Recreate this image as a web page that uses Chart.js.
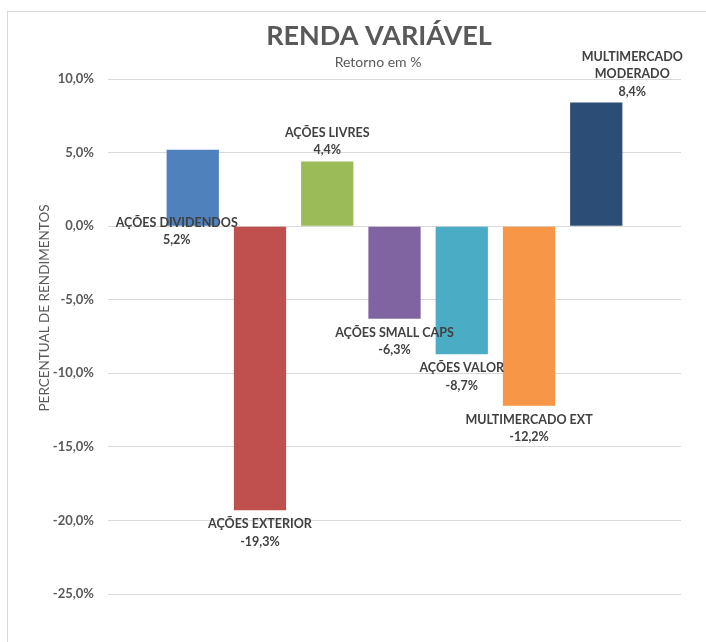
<!DOCTYPE html>
<html><head><meta charset="utf-8">
<script src="https://cdn.jsdelivr.net/npm/chart.js@4.4.0/dist/chart.umd.min.js"></script>
<style>
html,body{margin:0;padding:0;background:#fff;overflow:hidden}
#wrap{position:relative;width:706px;height:642px}
#frame{position:absolute;left:7px;top:11px;width:740px;height:680px;border:1px solid #d9d9d9;box-sizing:border-box;pointer-events:none}
canvas{position:absolute;left:0;top:0}
</style></head><body>
<div id="wrap"><canvas id="c" width="706" height="642"></canvas><div id="frame"></div></div>
<script>
// ---- data ----
const categories = ['AÇÕES DIVIDENDOS','AÇÕES EXTERIOR','AÇÕES LIVRES','AÇÕES SMALL CAPS','AÇÕES VALOR','MULTIMERCADO EXT','MULTIMERCADO MODERADO'];
const returnsPct = [5.2, -19.3, 4.4, -6.3, -8.7, -12.2, 8.4];
const yTicks = [10, 5, 0, -5, -10, -15, -20, -25];
const chartTitle = 'RENDA VARIÁVEL';
const chartSubtitle = 'Retorno em %';
const yAxisTitle = 'PERCENTUAL DE RENDIMENTOS';

// ---- styling ----
const barColors = ['#4F81BD','#C0504D','#9BBB59','#8064A2','#4BACC6','#F79646','#2C4D75'];
const labelNudges = [{atBase:true, dx:-16, dy:-3}, {}, {}, {}, {}, {}, {dx:36}];
const GRAY = '#595959', DARK = '#404040';
const fmt = v => v.toFixed(1).replace('.', ',') + '%';

function wrap(ctx, text, maxW){
  const words = text.split(' '); const lines = []; let cur = '';
  words.forEach(w => {
    const t = cur ? cur + ' ' + w : w;
    if (cur && ctx.measureText(t).width > maxW) { lines.push(cur); cur = w; } else cur = t;
  });
  if (cur) lines.push(cur);
  return lines;
}

const decorPlugin = {
  id: 'decor',
  afterDraw(chart){
    const ctx = chart.ctx; ctx.save();
    ctx.fillStyle = GRAY; ctx.textAlign = 'center'; ctx.textBaseline = 'alphabetic';
    ctx.font = 'bold 27px Lato'; ctx.fillText(chartTitle, 379, 45);
    ctx.font = '14px Lato'; ctx.fillText(chartSubtitle, 378, 67);
    ctx.textBaseline = 'middle';
    ctx.translate(45, 308); ctx.rotate(-Math.PI/2);
    ctx.font = '13.5px Lato'; ctx.fillText(yAxisTitle, 0, 0);
    ctx.restore();
  },
  afterDatasetsDraw(chart){
    const ctx = chart.ctx; const meta = chart.getDatasetMeta(0);
    ctx.save(); ctx.font = 'bold 12.5px Lato'; ctx.fillStyle = DARK;
    ctx.textAlign = 'center'; ctx.textBaseline = 'middle';
    const lh = 17.5;
    meta.data.forEach((bar, i) => {
      const v = returnsPct[i];
      const lines = wrap(ctx, categories[i], 140).concat([fmt(v)]);
      const n = lines.length; const nd = labelNudges[i] || {};
      const x = bar.x + (nd.dx || 0);
      let y0;
      if (nd.atBase) y0 = bar.base + (nd.dy || 0);
      else if (v >= 0) y0 = bar.y - 11 - (n - 1) * lh;
      else y0 = bar.y + 14;
      lines.forEach((t, k) => ctx.fillText(t, x, y0 + k * lh));
    });
    ctx.restore();
  }
};

new Chart(document.getElementById('c'), {
  type: 'bar',
  data: { labels: categories, datasets: [{ data: returnsPct, backgroundColor: barColors, borderWidth: 0, categoryPercentage: 1, barPercentage: 0.777 }] },
  options: {
    responsive: false, animation: false,
    layout: { padding: { top: 79, bottom: 48, right: 25, left: 0 } },
    plugins: { legend: { display: false }, title: { display: false }, tooltip: { enabled: false } },
    scales: {
      x: { display: false, afterBuildTicks: s => { s._startValue = -1.26; s._valueRange = 8.52; } },
      y: {
        min: -25, max: 10,
        afterFit: s => { s.width = 108; },
        afterBuildTicks: s => { s.ticks = yTicks.map(v => ({ value: v })); },
        ticks: { stepSize: 5, padding: 14, color: GRAY, font: { family: 'Lato', size: 13, weight: 'bold' }, callback: v => fmt(v) },
        grid: { color: '#d9d9d9', drawTicks: false },
        border: { display: false }
      }
    }
  },
  plugins: [decorPlugin]
});
</script>
</body></html>
